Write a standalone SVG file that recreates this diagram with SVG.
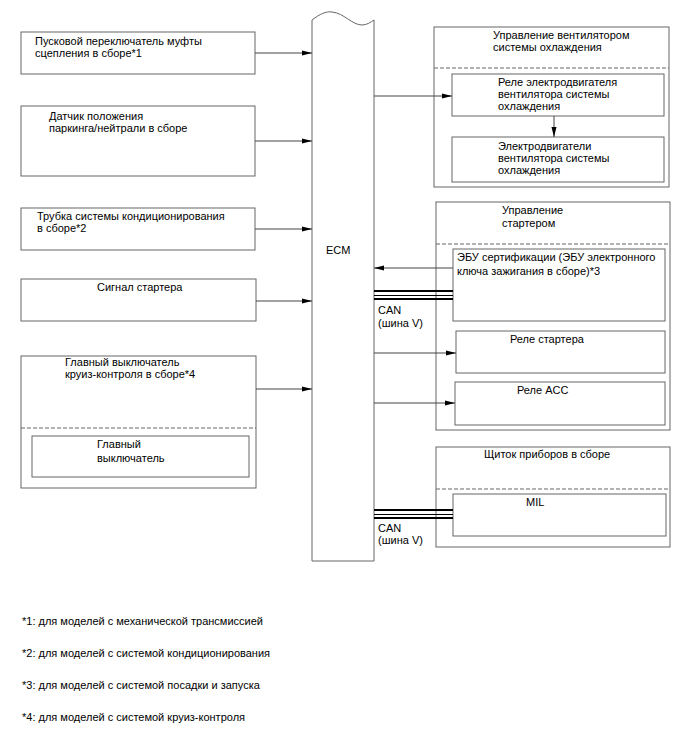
<svg xmlns="http://www.w3.org/2000/svg" width="688" height="755" viewBox="0 0 688 755">
<style>
text{font-family:"Liberation Sans",Arial,sans-serif;font-size:11px;fill:#000}
.box{fill:#fff;stroke:#666;stroke-width:1}
.dash{stroke:#666;stroke-width:1;stroke-dasharray:4,2;fill:none}
.conn{stroke:#444;stroke-width:1;fill:none}
.can{stroke:#000;fill:none}
</style>
<defs>
<marker id="ah" markerUnits="userSpaceOnUse" markerWidth="10" markerHeight="6" refX="10" refY="3" orient="auto">
<path d="M0,0.5 L10,3 L0,5.5 Z" fill="#000"/>
</marker>
</defs>
<rect width="688" height="755" fill="#fff"/>

<g id="ecm">
<path class="box" d="M312,20 C320,14 326,11 332,12 C344,13 352,25 362,25 C367,25 371,22 374,20 L374,561 L312,561 Z"/>
<text x="326" y="254">ECM</text>
</g>

<g id="clutch-switch">
<rect class="box" x="21" y="32" width="234" height="42"/>
<text x="35" y="45">Пусковой переключатель муфты</text>
<text x="35" y="57">сцепления в сборе*1</text>
</g>

<g id="pn-sensor">
<rect class="box" x="21" y="106" width="234" height="70"/>
<text x="49" y="120">Датчик положения</text>
<text x="49" y="132">паркинга/нейтрали в сборе</text>
</g>

<g id="ac-tube">
<rect class="box" x="21" y="208" width="234" height="42"/>
<text x="37" y="220">Трубка системы кондиционирования</text>
<text x="37" y="232">в сборе*2</text>
</g>

<g id="starter-signal">
<rect class="box" x="21" y="279" width="235" height="42"/>
<text x="97" y="291">Сигнал стартера</text>
</g>

<g id="cruise-switch">
<rect class="box" x="21" y="356" width="235" height="132"/>
<text x="65" y="366">Главный выключатель</text>
<text x="65" y="378">круиз-контроля в сборе*4</text>
<line class="dash" x1="21" y1="428" x2="256" y2="428"/>
<rect class="box" x="32" y="436" width="217" height="41"/>
<text x="97" y="448">Главный</text>
<text x="97" y="462">выключатель</text>
</g>

<g id="fan-control">
<rect class="box" x="434" y="27" width="235" height="160"/>
<text x="493" y="39">Управление вентилятором</text>
<text x="493" y="51">системы охлаждения</text>
<line class="dash" x1="434" y1="68" x2="669" y2="68"/>
<rect class="box" x="452" y="74" width="212" height="42"/>
<text x="498" y="86">Реле электродвигателя</text>
<text x="498" y="98">вентилятора системы</text>
<text x="498" y="110">охлаждения</text>
<rect class="box" x="452" y="137" width="212" height="45"/>
<text x="498" y="150">Электродвигатели</text>
<text x="498" y="162">вентилятора системы</text>
<text x="498" y="174">охлаждения</text>
</g>

<g id="starter-control">
<rect class="box" x="436" y="202" width="234" height="228"/>
<text x="502" y="214">Управление</text>
<text x="502" y="227">стартером</text>
<line class="dash" x1="436" y1="244" x2="670" y2="244"/>
<rect class="box" x="453" y="249" width="212" height="72"/>
<text x="457" y="261">ЭБУ сертификации (ЭБУ электронного</text>
<text x="457" y="275">ключа зажигания в сборе)*3</text>
<rect class="box" x="456" y="331" width="209" height="42"/>
<text x="510" y="343">Реле стартера</text>
<rect class="box" x="455" y="382" width="210" height="43"/>
<text x="517" y="394">Реле ACC</text>
</g>

<g id="combination-meter">
<rect class="box" x="436" y="447" width="234" height="100"/>
<text x="484" y="458">Щиток приборов в сборе</text>
<line class="dash" x1="436" y1="489" x2="670" y2="489"/>
<rect class="box" x="453" y="494" width="213" height="42"/>
<text x="526" y="506">MIL</text>
</g>

<g id="connectors">
<line class="conn" x1="255" y1="53" x2="312" y2="53" marker-end="url(#ah)"/>
<line class="conn" x1="255" y1="141" x2="312" y2="141" marker-end="url(#ah)"/>
<line class="conn" x1="255" y1="229" x2="312" y2="229" marker-end="url(#ah)"/>
<line class="conn" x1="256" y1="301" x2="312" y2="301" marker-end="url(#ah)"/>
<line class="conn" x1="256" y1="389" x2="312" y2="389" marker-end="url(#ah)"/>
<line class="conn" x1="374" y1="96" x2="452" y2="96" marker-end="url(#ah)"/>
<line class="conn" x1="554" y1="116" x2="554" y2="137" marker-end="url(#ah)"/>
<line class="conn" x1="453" y1="268" x2="374" y2="268" marker-end="url(#ah)"/>
<line class="conn" x1="374" y1="353" x2="456" y2="353" marker-end="url(#ah)"/>
<line class="conn" x1="374" y1="403" x2="455" y2="403" marker-end="url(#ah)"/>
<line class="can" x1="374" y1="291" x2="453" y2="291" stroke-width="2"/>
<line class="can" x1="374" y1="295.5" x2="453" y2="295.5" stroke-width="1"/>
<line class="can" x1="374" y1="299" x2="453" y2="299" stroke-width="2"/>
<line class="can" x1="374" y1="510" x2="453" y2="510" stroke-width="2"/>
<line class="can" x1="374" y1="514.5" x2="453" y2="514.5" stroke-width="1"/>
<line class="can" x1="374" y1="518" x2="453" y2="518" stroke-width="2"/>
<text x="378" y="314">CAN</text>
<text x="378" y="327">(шина V)</text>
<text x="378" y="532">CAN</text>
<text x="378" y="544">(шина V)</text>
</g>

<g id="footnotes">
<text x="22" y="625">*1: для моделей с механической трансмиссией</text>
<text x="22" y="657">*2: для моделей с системой кондиционирования</text>
<text x="22" y="689">*3: для моделей с системой посадки и запуска</text>
<text x="22" y="721">*4: для моделей с системой круиз-контроля</text>
</g>
</svg>
